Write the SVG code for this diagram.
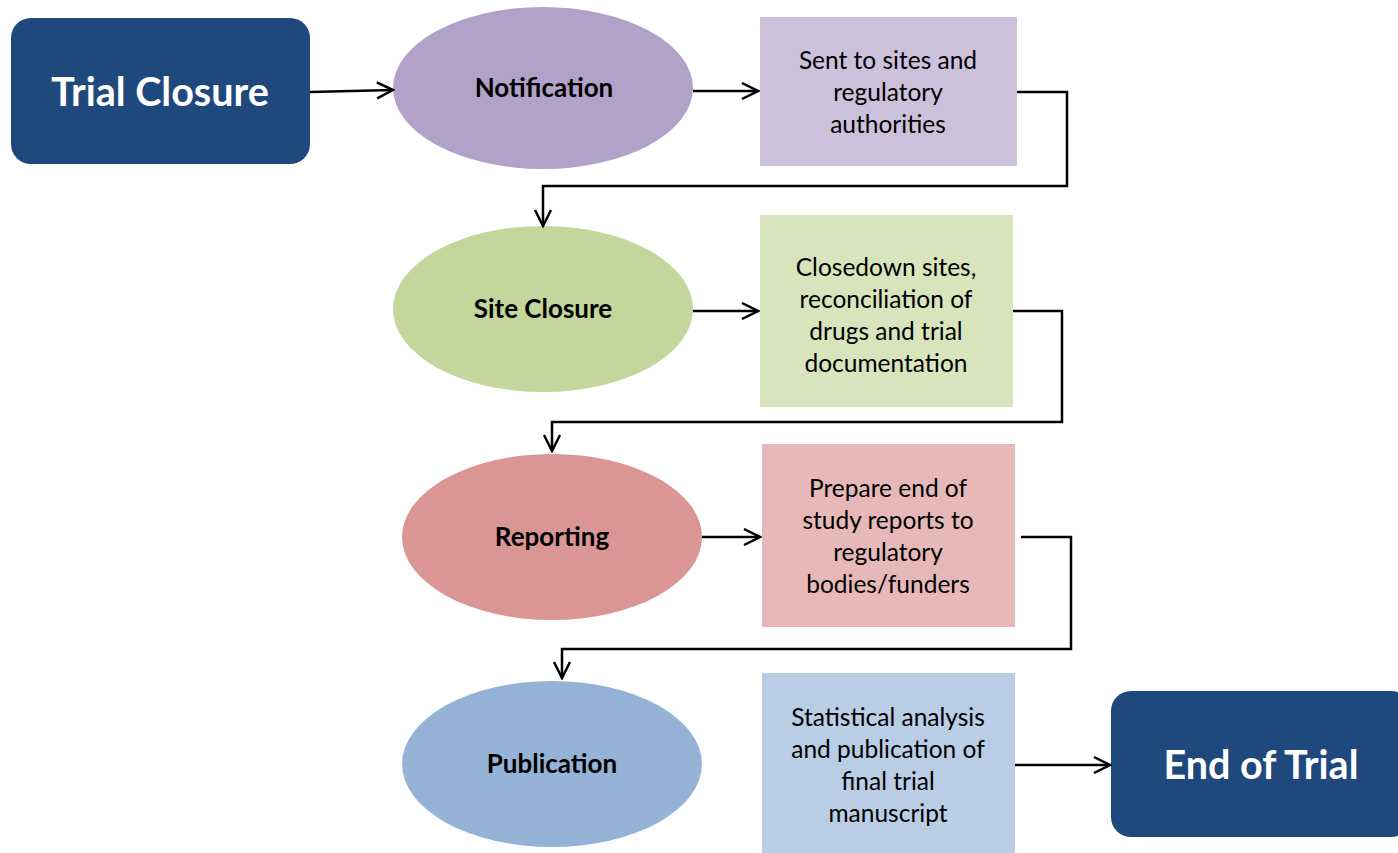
<svg xmlns="http://www.w3.org/2000/svg" width="1398" height="853" viewBox="0 0 1398 853">
<defs>
<style>
.term{fill:#1f497d}
.tt{font-family:Lato,"Open Sans",sans-serif;font-weight:bold;font-size:39.5px;fill:#fff;text-anchor:middle}
.et{font-family:Lato,"Open Sans",sans-serif;font-weight:bold;font-size:26px;fill:#000;text-anchor:middle}
.bt{font-family:Lato,"Open Sans",sans-serif;font-size:24.5px;fill:#000;text-anchor:middle}
.c{fill:none;stroke:#000;stroke-width:2.5}
</style>
<marker id="ah" viewBox="0 0 20 20" refX="18" refY="10" markerWidth="20" markerHeight="20" markerUnits="userSpaceOnUse" orient="auto">
<path d="M2,2 L18,10 L2,18" fill="none" stroke="#000" stroke-width="2.5"/>
</marker>
</defs>
<g id="trial-closure"><rect class="term" x="11" y="18" width="299" height="146" rx="20"/><text class="tt" x="160" y="106">Trial Closure</text></g>
<g id="notification"><ellipse cx="543" cy="88" rx="150" ry="81" fill="#b2a2c7"/><text class="et" x="544" y="97">Notification</text></g>
<g id="notification-box"><rect x="760" y="17" width="257" height="149" fill="#ccc1da"/><text class="bt"><tspan x="888" y="69">Sent to sites and</tspan><tspan x="888" y="101">regulatory</tspan><tspan x="888" y="133">authorities</tspan></text></g>
<g id="site-closure"><ellipse cx="543" cy="309" rx="150" ry="83" fill="#c3d69b"/><text class="et" x="543" y="318">Site Closure</text></g>
<g id="site-box"><rect x="760" y="215" width="253" height="192" fill="#d7e4bc"/><text class="bt"><tspan x="886" y="276">Closedown sites,</tspan><tspan x="886" y="308">reconciliation of</tspan><tspan x="886" y="340">drugs and trial</tspan><tspan x="886" y="372">documentation</tspan></text></g>
<g id="reporting"><ellipse cx="552" cy="537" rx="150" ry="83" fill="#d99694"/><text class="et" x="552" y="546">Reporting</text></g>
<g id="reporting-box"><rect x="762" y="444" width="253" height="183" fill="#e6b9b8"/><text class="bt"><tspan x="888" y="497">Prepare end of</tspan><tspan x="888" y="529">study reports to</tspan><tspan x="888" y="561">regulatory</tspan><tspan x="888" y="593">bodies/funders</tspan></text></g>
<g id="publication"><ellipse cx="552" cy="764" rx="150" ry="83" fill="#95b3d7"/><text class="et" x="552" y="773">Publication</text></g>
<g id="publication-box"><rect x="762" y="673" width="253" height="180" fill="#b9cde5"/><text class="bt"><tspan x="888" y="726">Statistical analysis</tspan><tspan x="888" y="758">and publication of</tspan><tspan x="888" y="790">final trial</tspan><tspan x="888" y="822">manuscript</tspan></text></g>
<g id="end-of-trial"><rect class="term" x="1111" y="691" width="300" height="146" rx="20"/><text class="tt" x="1261" y="779">End of Trial</text></g>
<g id="connectors">
<path class="c" d="M310,92 L393,90" marker-end="url(#ah)"/>
<path class="c" d="M693,91 L758,91" marker-end="url(#ah)"/>
<path class="c" d="M1017,92 L1067,92 L1067,186 L543,186 L543,226" marker-end="url(#ah)"/>
<path class="c" d="M693,311 L758,311" marker-end="url(#ah)"/>
<path class="c" d="M1013,311 L1062,311 L1062,422 L552,422 L552,451" marker-end="url(#ah)"/>
<path class="c" d="M702,537 L760,537" marker-end="url(#ah)"/>
<path class="c" d="M1021,537 L1071,537 L1071,649 L562,649 L562,678" marker-end="url(#ah)"/>
<path class="c" d="M1015,765 L1110,765" marker-end="url(#ah)"/>
</g>
</svg>
